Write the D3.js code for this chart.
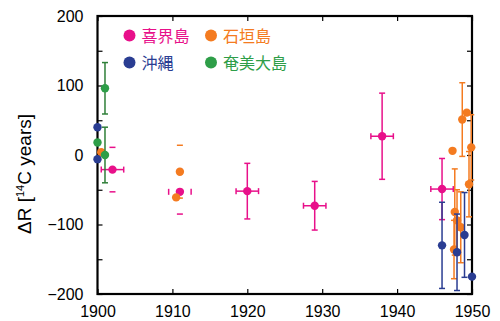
<!DOCTYPE html>
<html><head><meta charset="utf-8">
<script src="https://cdn.jsdelivr.net/npm/d3@7"></script>
<style>body{margin:0;background:#fff}svg{display:block;font-family:"Liberation Sans",Arial,sans-serif}</style>
</head><body><svg id="c" width="500" height="321"></svg>
<script>
// ---- data ----
const seriesNames = ["喜界島","石垣島","沖縄","奄美大島"];
// 喜界島 (Kikai)
const kikaiYear = [1902, 1911, 1920, 1929, 1938, 1946];
const kikaiVal  = [-21, -53, -52, -73, 27, -49];
const kikaiErr  = [32, 32, 40, 35, 62, 44];
const kikaiXErr = [1.5, 1.5, 1.5, 1.5, 1.5, 1.5];
const kikaiCapsOnly = [true, true, false, false, false, false];
// 石垣島 (Ishigaki)
const ishiYear = [1900.5, 1910.5, 1911, 1947.4, 1948.7, 1949.3, 1949.9, 1949.6, 1947.7, 1948, 1948.5, 1947.6];
const ishiVal  = [4, -61, -24, 6, 51, 61, 11, -42, -82, -94, -104, -136];
const ishiErr  = [0, 0, 38, 0, 53, 0, 47, 47, 62, 44, 51, 42];
const ishiCapsOnly = [false, false, true, false, false, false, false, false, false, false, false, false];
// 沖縄 (Okinawa)
const okiYear = [1900, 1900, 1946, 1948, 1949, 1950];
const okiVal  = [40, -6, -130, -140, -115, -175];
const okiErr  = [0, 0, 62, 55, 61, 0];
// 奄美大島 (Amami)
const amaYear = [1900, 1901, 1901];
const amaVal  = [18, 96, 0];
const amaErr  = [0, 37, 40];

const xTicks = [1900, 1910, 1920, 1930, 1940, 1950];
const yTicks = [-200, -100, 0, 100, 200];
const yMinorTicks = [-200, -150, -100, -50, 0, 50, 100, 150, 200];

// ---- layout ----
const svg = d3.select("#c");
const L = 97.5, R = 472, T = 16, B = 294;
const x = d3.scaleLinear().domain([1900, 1950]).range([L, R]);
const y = d3.scaleLinear().domain([-200, 200]).range([B, T]);

const colors = {
  "喜界島": {pt:"#e8108a", err:"#e8108a"},
  "石垣島": {pt:"#f47b20", err:"#f47b20"},
  "沖縄":   {pt:"#2a3d92", err:"#2a3d92"},
  "奄美大島": {pt:"#2e9e48", err:"#2f7f38"}
};

function build(years, vals, errs, xerrs, caps){
  return years.map((yr,i)=>({year:yr, v:vals[i], e:errs? errs[i]:0, xe:xerrs? xerrs[i]:0, capsOnly: caps? caps[i]:false}));
}
const series = [
  {name:"喜界島", data: build(kikaiYear, kikaiVal, kikaiErr, kikaiXErr, kikaiCapsOnly)},
  {name:"石垣島", data: build(ishiYear, ishiVal, ishiErr, null, ishiCapsOnly)},
  {name:"沖縄", data: build(okiYear, okiVal, okiErr, null, null)},
  {name:"奄美大島", data: build(amaYear, amaVal, amaErr, null, null)}
];

// axes (ticks inward)
const gAx = svg.append("g");
const axB = d3.axisBottom(x).tickValues(xTicks).tickSize(-5).tickPadding(12).tickFormat(d3.format("d"));
const axT = d3.axisTop(x).tickValues(xTicks).tickSize(-5).tickFormat("");
const axLm = d3.axisLeft(y).tickValues(yMinorTicks).tickSize(-5).tickFormat("");
const axLl = d3.axisLeft(y).tickValues(yTicks).tickSize(0).tickPadding(14);
const axR = d3.axisRight(y).tickValues(yMinorTicks).tickSize(-5).tickFormat("");

gAx.append("g").attr("transform",`translate(0,${B})`).call(axB);
gAx.append("g").attr("transform",`translate(0,${T})`).call(axT);
gAx.append("g").attr("transform",`translate(${L},0)`).call(axLm);
gAx.append("g").attr("transform",`translate(${L},0)`).call(axLl);
gAx.append("g").attr("transform",`translate(${R},0)`).call(axR);
gAx.selectAll(".domain").remove();
gAx.selectAll(".tick line").attr("stroke","#000").attr("stroke-width",1.2);
gAx.selectAll(".tick text").attr("font-size",16).attr("fill","#000").attr("font-family","Liberation Sans, Arial, sans-serif");

// frame
svg.append("rect").attr("x",L).attr("y",T).attr("width",R-L).attr("height",B-T)
  .attr("fill","none").attr("stroke","#000").attr("stroke-width",2.2);

// y label
const yl = svg.append("text").attr("transform","translate(31,174) rotate(-90)")
  .attr("text-anchor","middle").attr("font-size",19).attr("fill","#000");
yl.append("tspan").text("ΔR [");
yl.append("tspan").attr("font-size",11).attr("dy",-7).text("14");
yl.append("tspan").attr("dy",7).text("C years]");

// error bars + points
const cap = 3;
series.forEach(s=>{
  const c = colors[s.name];
  const g = svg.append("g");
  s.data.forEach(d=>{
    const cx = x(d.year), cy = y(d.v);
    if (d.e > 0){
      const y1 = y(d.v + d.e), y2 = y(d.v - d.e);
      if (!d.capsOnly) g.append("line").attr("x1",cx).attr("x2",cx).attr("y1",y1).attr("y2",y2).attr("stroke",c.err).attr("stroke-width",1.5);
      [y1,y2].forEach(yy=>g.append("line").attr("x1",cx-cap).attr("x2",cx+cap).attr("y1",yy).attr("y2",yy).attr("stroke",c.err).attr("stroke-width",1.5));
    }
    if (d.xe > 0){
      const x1 = x(d.year - d.xe), x2 = x(d.year + d.xe);
      if (!(d.capsOnly && d.year > 1905)) g.append("line").attr("x1",x1).attr("x2",x2).attr("y1",cy).attr("y2",cy).attr("stroke",c.err).attr("stroke-width",1.5);
      [x1,x2].forEach(xx=>g.append("line").attr("x1",xx).attr("x2",xx).attr("y1",cy-cap).attr("y2",cy+cap).attr("stroke",c.err).attr("stroke-width",1.5));
    }
  });
  g.selectAll("circle").data(s.data).join("circle")
    .attr("cx",d=>x(d.year)).attr("cy",d=>y(d.v)).attr("r",4.2).attr("fill",c.pt);
});

// legend
const legPos = [[129.5,35.5],[211,35.5],[129.5,62.5],[211,62.5]];
seriesNames.forEach((n,i)=>{
  const [lx,ly] = legPos[i];
  svg.append("circle").attr("cx",lx).attr("cy",ly).attr("r",6).attr("fill",colors[n].pt);
  svg.append("text").attr("x",lx+12).attr("y",ly+6).attr("font-size",16)
    .attr("font-family","Noto Sans CJK JP, sans-serif").attr("fill",colors[n].pt).text(n);
});
</script></body></html>
